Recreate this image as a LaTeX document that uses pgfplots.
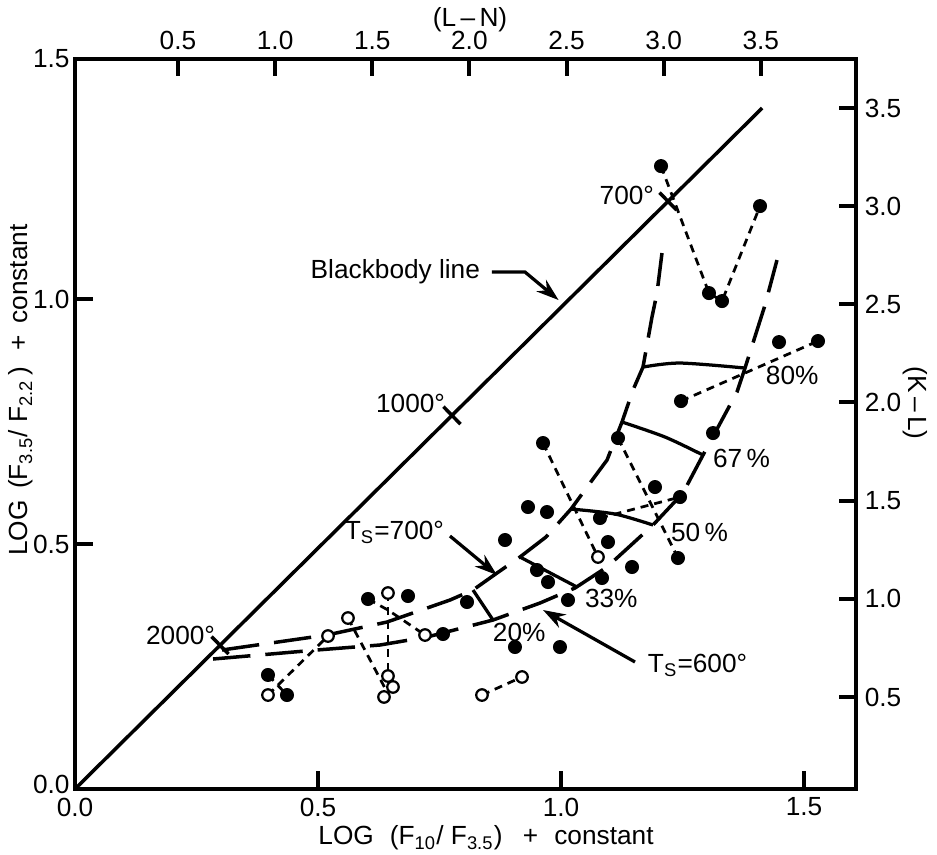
\documentclass[border=0pt]{standalone}
\usepackage{pgfplots}
\pgfplotsset{compat=1.18}
\usepackage{fontspec}
\setmainfont{Liberation Sans}
\usetikzlibrary{arrows.meta}

\pgfplotsset{
  base/.style={
    scale only axis, width=312.4pt, height=292pt,
    axis line style={line width=1.6pt},
    tick align=inside, major tick length=7pt,
    tick style={line width=1.6pt, black},
    tick label style={font=\fontsize{10.5}{12}\selectfont},
    clip=false,
  },
  trk/.style={line width=1.4pt, dash pattern=on 15pt off 6pt},
  iso/.style={line width=1.3pt},
  dl/.style={line width=1.1pt, dash pattern=on 3.2pt off 2.4pt},
}

\begin{document}
\begin{tikzpicture}[font=\fontsize{10.5}{12}\selectfont]
\useasboundingbox (-30pt,-26.4pt) rectangle (344.8pt,315.6pt);

% top axis (L-N)
\begin{axis}[base, xmin=-0.03, xmax=3.99, ymin=0, ymax=1,
  axis x line*=top, hide y axis,
  xtick={0.5,1,1.5,2,2.5,3,3.5}, xticklabels={0.5,1.0,1.5,2.0,2.5,3.0,3.5}]
\addplot[draw=none] coordinates {(0,0)};
\end{axis}

% right axis (K-L)
\begin{axis}[base, xmin=0, xmax=1, ymin=0.0313, ymax=3.7496,
  axis y line*=right, hide x axis,
  ytick={0.5,1,1.5,2,2.5,3,3.5}, yticklabels={0.5,1.0,1.5,2.0,2.5,3.0,3.5}]
\addplot[draw=none] coordinates {(0,1)};
\end{axis}

% main axis
\begin{axis}[base, xmin=0, xmax=1.607, ymin=0, ymax=1.49,
  xtick pos=left, ytick pos=left,
  xtick={0,0.5,1,1.5}, xticklabels={0.0,0.5,1.0,1.5},
  ytick={0,0.5,1,1.49}, yticklabels={\raisebox{3.5pt}{0.0},0.5,1.0,1.5},
  yticklabel style={inner sep=2pt}]

% blackbody line and temperature marks
\addplot[line width=1.4pt] coordinates {(0,0) (1.414,1.39)};
\addplot[line width=1.4pt] coordinates {(0.2809,0.3111) (0.3159,0.2755)};
\addplot[line width=1.4pt] coordinates {(0.7582,0.7803) (0.7932,0.7447)};
\addplot[line width=1.4pt] coordinates {(1.2027,1.2173) (1.2377,1.1817)};

% model tracks
\addplot[trk] coordinates {(0.3025,0.2837) (0.5185,0.3143) (0.6420,0.3408) (0.7716,0.3857) (0.8189,0.4061) (0.8683,0.4408) (0.9156,0.4735) (0.9691,0.5143) (1.0206,0.5714) (1.0597,0.6245) (1.0947,0.6714) (1.1255,0.7490) (1.1481,0.8143) (1.1687,0.8612) (1.1872,0.9633) (1.1975,1.0122) (1.2078,1.0939)};
\addplot[trk] coordinates {(0.2840,0.2653) (0.4979,0.2837) (0.6276,0.2939) (0.7243,0.3102) (0.8601,0.3449) (0.9568,0.3796) (1.0288,0.4102) (1.0947,0.4531) (1.1893,0.5388) (1.2510,0.6041) (1.2922,0.6816) (1.3621,0.8102) (1.3786,0.8592) (1.4198,0.9878) (1.4444,1.0796)};

% iso-percentage lines
\addplot[iso] coordinates {(0.8189,0.4061) (0.8601,0.3449)};
\addplot[iso] coordinates {(0.9156,0.4735) (1.0329,0.4122)};
\addplot[iso, smooth] coordinates {(1.0206,0.5714) (1.1111,0.5612) (1.1893,0.5388)};
\addplot[iso, smooth] coordinates {(1.1255,0.7490) (1.2140,0.7184) (1.2922,0.6816)};
\addplot[iso, smooth] coordinates {(1.1687,0.8612) (1.2449,0.8694) (1.3786,0.8592)};

% dashed connections between data points
\addplot[dl] coordinates {(1.2058,1.2714) (1.3045,1.0122) (1.3313,0.9959) (1.4095,1.1898)};
\addplot[dl] coordinates {(1.2469,0.7918) (1.5288,0.9143)};
\addplot[dl] coordinates {(1.1173,0.7163) (1.2407,0.4714)};
\addplot[dl] coordinates {(0.9630,0.7061) (1.0761,0.4735)};
\addplot[dl] coordinates {(1.0802,0.5531) (1.2449,0.5959)};
\addplot[dl] coordinates {(0.3971,0.1918) (0.4177,0.2122) (0.5206,0.3122)};
\addplot[dl] coordinates {(0.3971,0.2327) (0.4362,0.1918)};
\addplot[dl] coordinates {(0.5617,0.3490) (0.6399,0.2020)};
\addplot[dl] coordinates {(0.6029,0.3878) (0.6440,0.3653) (0.7202,0.3143)};
\addplot[dl] coordinates {(0.6440,0.4000) (0.6440,0.2306)};
\addplot[dl] coordinates {(0.8374,0.1918) (0.9198,0.2286)};

% filled points
\addplot[only marks, mark=*, mark size=2.6pt, mark options={fill=black, draw=black}] coordinates {
(1.2058,1.2714) (1.4095,1.1898) (1.3045,1.0122) (1.3313,0.9959) (1.4486,0.9122)
(1.5288,0.9143) (1.2469,0.7918) (1.3128,0.7265) (1.1173,0.7163) (0.9630,0.7061)
(1.1934,0.6163) (1.2449,0.5959) (0.9321,0.5755) (0.9712,0.5653) (1.0802,0.5531)
(0.8848,0.5082) (1.0967,0.5041) (1.1461,0.4531) (1.2407,0.4714) (0.9506,0.4469)
(0.9733,0.4224) (1.0144,0.3857) (1.0844,0.4306) (0.8066,0.3816) (0.9053,0.2898)
(0.9979,0.2898) (0.6029,0.3878) (0.6852,0.3939) (0.7572,0.3163) (0.3971,0.2327)
(0.4362,0.1918)};

% open points
\addplot[only marks, mark=*, mark size=2.3pt, mark options={fill=white, draw=black, line width=0.9pt}] coordinates {
(0.3971,0.1918) (0.5206,0.3122) (0.5617,0.3490) (0.6440,0.4000) (0.7202,0.3143)
(0.6440,0.2306) (0.6543,0.2082) (0.6358,0.1878) (0.8374,0.1918) (0.9198,0.2286)
(1.0761,0.4735)};

% annotations
\draw[line width=1.3pt, -{Stealth[length=9pt,width=6pt]}] (axis cs:0.858,1.0551) -- (axis cs:0.926,1.0551) -- (axis cs:0.995,0.998);
\node[anchor=east, inner sep=1pt] at (axis cs:0.8395,1.0551) {Blackbody line};
\draw[line width=1.3pt, -{Stealth[length=9pt,width=6pt]}] (axis cs:0.7716,0.5163) -- (axis cs:0.8683,0.4367);
\node[anchor=east, inner sep=1pt] at (axis cs:0.7654,0.5245) {T\textsubscript{S}=700°};
\draw[line width=1.3pt, -{Stealth[length=9pt,width=6pt]}] (axis cs:1.1523,0.2592) -- (axis cs:0.9630,0.3653);
\node[anchor=west, inner sep=1pt] at (axis cs:1.1728,0.2531) {T\textsubscript{S}=600°};

\node[anchor=east, inner sep=1pt] at (axis cs:0.2942,0.3143) {2000°};
\node[anchor=east, inner sep=1pt] at (axis cs:0.7675,0.7878) {1000°};
\node[anchor=east, inner sep=1pt] at (axis cs:1.1975,1.2122) {700°};

\node[anchor=west, inner sep=1pt] at (axis cs:1.4156,0.8449) {80\%};
\node[anchor=west, inner sep=1pt] at (axis cs:1.3066,0.6755) {67\,\%};
\node[anchor=west, inner sep=1pt] at (axis cs:1.2202,0.5245) {50\,\%};
\node[anchor=west, inner sep=1pt] at (axis cs:1.0432,0.3898) {33\%};
\node[anchor=west, inner sep=1pt] at (axis cs:0.8539,0.3204) {20\%};

% axis titles
\node[rotate=90, anchor=base, inner sep=0pt] at (axis cs:-0.0967,0.814) {LOG\, (F\textsubscript{3.5}/ F\textsubscript{2.2}\,)\,\, +\, constant};
\node[anchor=base, inner sep=0pt] at (axis cs:0.8457,-0.1143) {LOG\,\, (F\textsubscript{10}/ F\textsubscript{3.5})\,\,\, +\,\, constant};
\node[anchor=base, inner sep=0pt] at (axis cs:0.8128,1.557) {(L\,–\,N)};
\node[rotate=-90, anchor=base, inner sep=0pt] at (axis cs:1.714,0.788) {(K\,–\,L)};
\end{axis}
\end{tikzpicture}
\end{document}
